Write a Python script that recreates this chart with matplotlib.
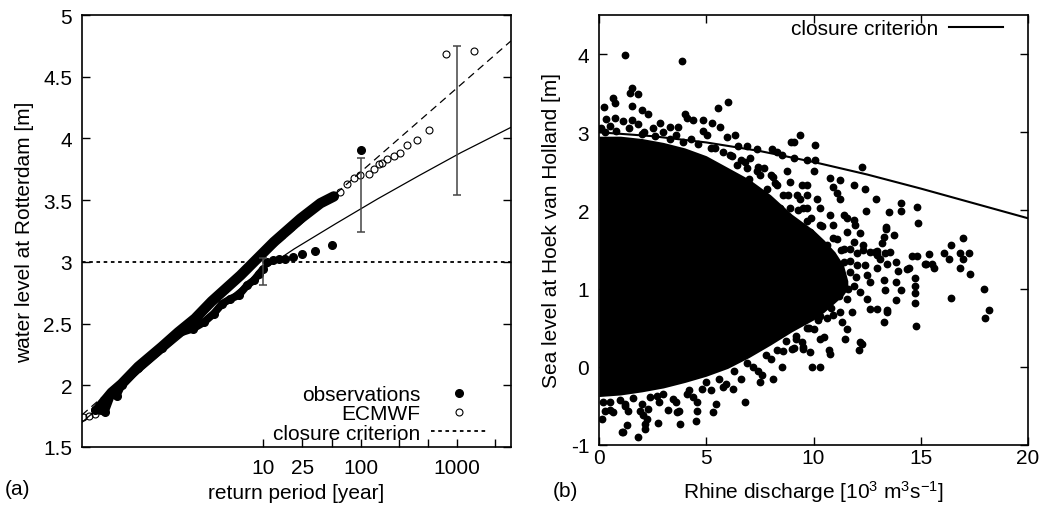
import numpy as np
import matplotlib
matplotlib.use("Agg")
import matplotlib.pyplot as plt

plt.rcParams['font.family'] = ['Liberation Sans', 'DejaVu Sans']
plt.rcParams['font.size'] = 15
plt.rcParams['mathtext.fontset'] = 'custom'
plt.rcParams['mathtext.rm'] = 'Liberation Sans'
plt.rcParams['mathtext.it'] = 'Liberation Sans:italic'

# ---- panel (a): x in Gumbel reduced variate -ln(-ln(1-1/T)), level in m
ecmwf_g = [-2.06, -1.92, -1.78, -1.70, -1.38, -1.14, -0.74, -0.18, 0.22, 0.62, 1.02, 1.71,
           2.51, 3.15, 3.63, 3.95, 4.11, 4.27, 4.43, 4.59, 4.79, 4.91, 5.03, 5.11, 5.23,
           5.39, 5.53, 5.71, 5.95, 6.23, 6.64, 7.32]
ecmwf_lvl = [1.74, 1.755, 1.77, 1.81, 1.94, 2.01, 2.15, 2.31, 2.43, 2.54, 2.68, 2.89,
             3.16, 3.35, 3.475, 3.53, 3.57, 3.63, 3.68, 3.70, 3.71, 3.75, 3.79, 3.80, 3.83,
             3.855, 3.88, 3.95, 3.99, 4.07, 4.68, 4.71]

obs_g = [-1.78, -1.54, -1.38, -1.26, -1.14, -0.74, -0.18, 0.22, 0.58, 0.83, 1.07, 1.27, 1.47,
         1.67, 1.87, 2.03, 2.15, 2.25, 2.35, 2.48, 2.63, 2.77, 2.97, 3.19, 3.49, 3.90, 4.60]
obs_lvl = [1.80, 1.785, 1.93, 1.915, 2.00, 2.14, 2.30, 2.42, 2.46, 2.51, 2.58, 2.66, 2.70,
           2.73, 2.81, 2.85, 2.90, 2.94, 3.00, 3.015, 3.02, 3.027, 3.04, 3.065, 3.085, 3.138, 3.91]

gev_g = [-2.09, -1, 0, 1, 2, 2.25, 3, 4, 4.6, 5, 6, 7, 8.2]
gev_lvl = [1.70, 2.02, 2.31, 2.59, 2.865, 2.935, 3.105, 3.31, 3.43, 3.51, 3.70, 3.885, 4.09]

gumbel_g = [-2.09, 8.2]
gumbel_lvl = [1.76, 4.79]

eb_T = [10, 100, 1000]
eb_lo = [2.81, 3.245, 3.545]
eb_hi = [3.03, 3.84, 4.75]

tick_T = [10, 25, 50, 100, 250, 500, 1000, 2500]
tick_lab = ['10', '25', '', '100', '', '', '1000', '']

# ---- panel (b): Rhine discharge [10^3 m3/s] vs sea level [m]
clos_q = [0, 2.5, 5, 7.5, 10, 12.5, 15, 17.5, 20]
clos_lvl = [3.0, 2.95, 2.87, 2.76, 2.62, 2.46, 2.28, 2.09, 1.90]

# outline of the solid cloud of points
env_q = [0, 1, 2, 3, 4, 5, 6, 7, 8, 9, 10, 10.5, 11, 11.4, 11.6]
env_hi = [2.95, 2.95, 2.92, 2.87, 2.8, 2.7, 2.55, 2.4, 2.2, 1.95, 1.75, 1.62, 1.47, 1.3, 1.1]
env_lo = [-0.38, -0.36, -0.32, -0.27, -0.2, -0.12, -0.02, 0.12, 0.28, 0.45, 0.6, 0.7, 0.82, 0.92, 1.0]

out_q = [1.21, 3.86, 1.52, 1.45, 1.83, 0.67, 0.75, 0.23, 1.52, 2.02, 2.30, 6.03, 5.57, 4.01, 4.09,
         0.33, 0.75, 1.13, 1.52, 2.85, 3.31, 3.70, 4.40, 4.87, 5.26, 5.65, 4.87, 5.03, 6.35, 5.96,
         9.35, 8.96, 6.50, 8.06, 7.36, 6.89, 8.53, 9.07, 9.69, 7.67, 8.13, 8.76, 9.46, 7.36,
         0.1, 0.5, 1.8, 2.5, 3.0, 3.6, 4.3, 2.1,
         10.08, 10.08, 10.0, 12.26, 9.69, 10.78, 10.93, 11.87, 12.41, 11.09, 12.93, 14.08, 14.08,
         14.83, 13.52, 12.46, 14.85, 13.39, 13.77, 13.27, 16.97, 16.41, 16.07, 16.81, 17.23, 15.37,
         16.33, 16.95, 15.26, 15.52, 15.6, 16.81, 17.28, 14.83, 14.36, 13.92, 14.75, 14.75, 14.75,
         14.75, 14.79, 17.93, 16.41, 18.2, 18.01, 14.08, 13.86, 13.42, 13.42, 13.27, 13.86, 12.96,
         12.65, 12.26, 12.18, 12.1,
         13.37, 14.43, 14.59, 15.21, 13.84, 12.33, 12.88, 13.19, 11.48, 10.7, 10.78, 10.28, 9.92,
         9.53, 9.07, 9.84, 11.24, 11.24, 11.56, 11.94, 12.18, 9.07, 8.29,
         11.71, 12.03, 12.65, 12.96, 13.35, 13.58, 13.11, 13.42, 12.96, 13.27, 13.35, 12.65, 12.49,
         12.18, 11.87, 11.56, 11.79, 11.25, 11.56, 10.93, 11.33, 10.63, 10.31, 10.0, 10.47, 12.41,
         12.49, 12.03, 11.4, 11.25, 10.93, 11.71, 10.31, 10.78,
         9.69, 10.16, 10.31, 10.78, 9.69, 9.38, 10.93, 11.40, 11.56, 11.87, 10.31, 9.85, 11.09,
         11.87, 11.4, 10.63, 12.33, 12.96,
         8.91, 9.22, 8.6, 8.29, 7.83, 6.89, 6.43, 7.05, 6.11, 8.91, 9.53, 8.45, 9.69,
         5.2, 5.8, 6.6, 7.4, 8.0, 7.0,
         0.13, 0.28, 0.67, 1.06, 1.83, 1.21, 1.37, 1.91, 2.07, 2.15, 2.23, 2.30, 2.77, 3.24, 3.75,
         3.78, 4.56, 4.53, 4.56, 4.79, 5.31, 5.46, 6.81, 6.24, 5.80, 7.51, 8.11, 7.59, 8.53, 8.99,
         9.53, 9.46, 3.47, 2.69, 4.09, 1.29, 2.15, 1.14, 3.62,
         0.5, 1.0, 1.6, 2.4, 3.0, 4.2, 5.0, 5.6, 6.3, 6.9, 7.2, 7.8, 8.3, 8.7, 9.2, 9.8, 10.2,
         0.3, 0.8, 1.4, 2.0, 2.6, 3.3, 3.9, 4.6, 5.4, 6.2, 6.8, 7.5, 8.2, 8.8, 9.3, 9.9, 10.4,
         10.9, 11.3, 11.7, 12.0, 11.6, 11.2, 10.8, 10.3, 9.7, 9.2, 8.6, 8.0, 7.4, 6.6, 5.9, 5.2,
         4.4, 3.6, 2.8, 2.0, 1.2, 0.5, 0.2]
out_lvl = [3.99, 3.91, 3.56, 3.50, 3.49, 3.44, 3.37, 3.32, 3.34, 3.29, 3.24, 3.39, 3.31, 3.24, 3.18,
           3.17, 3.18, 3.14, 3.16, 3.12, 3.07, 3.07, 3.16, 3.16, 3.12, 3.07, 3.01, 2.97, 2.97, 2.94,
           2.96, 2.88, 2.82, 2.79, 2.79, 2.82, 2.71, 2.67, 2.65, 2.54, 2.43, 2.50, 2.32, 2.50,
           3.05, 3.08, 3.10, 3.05, 3.0, 2.97, 2.92, 3.0,
           2.84, 2.64, 2.50, 2.56, 2.32, 2.41, 2.30, 2.32, 2.27, 2.22, 2.15, 2.09, 1.99,
           2.04, 1.98, 1.99, 1.84, 1.79, 1.68, 1.66, 1.65, 1.56, 1.46, 1.46, 1.46, 1.44,
           1.38, 1.38, 1.32, 1.31, 1.26, 1.27, 1.19, 1.42, 1.25, 1.22, 1.13, 1.04, 0.94,
           0.82, 0.52, 0.99, 0.88, 0.73, 0.63, 0.98, 0.86, 0.73, 0.70, 0.57, 1.09, 0.74,
           0.74, 0.29, 0.32, 0.21,
           1.76, 1.26, 1.42, 1.32, 1.34, 1.49, 1.47, 1.58, 0.36, 0.21, 0.17, 0.0, 0.0,
           0.25, 0.24, 0.19, 2.39, 2.15, 1.90, 1.81, 1.71, 2.88, 2.75,
           1.51, 1.45, 1.47, 1.48, 1.46, 1.47, 1.38, 1.32, 1.26, 1.11, 0.98, 1.09, 0.87,
           0.96, 1.04, 0.87, 0.70, 0.70, 0.49, 0.66, 0.57, 0.62, 0.36, 0.49, 0.38, 1.30,
           1.17, 1.30, 1.34, 1.17, 1.04, 1.21, 0.87, 0.87,
           2.20, 2.15, 2.03, 1.94, 2.03, 2.15, 1.81, 1.94, 1.73, 1.88, 1.81, 1.73, 1.64,
           1.60, 1.51, 1.56, 1.56, 1.43,
           2.37, 2.20, 2.20, 2.32, 2.28, 2.54, 2.58, 2.67, 2.71, 2.03, 2.03, 2.03, 1.86,
           2.8, 2.75, 2.65, 2.55, 2.45, 2.4,
           -0.67, -0.56, -0.58, -0.84, -0.90, -0.47, -0.57, -0.56, -0.62, -0.73, -0.67, -0.54, -0.72,
           -0.55, -0.56, -0.73, -0.57, -0.69, -0.45, -0.29, -0.58, -0.47, -0.45, -0.28, -0.26, -0.20,
           -0.15, -0.11, 0.0, 0.23, 0.23, 0.32, -0.41, -0.37, -0.35, -0.75, -0.79, -0.84, -0.58,
           -0.45, -0.42, -0.4, -0.38, -0.35, -0.3, -0.2, -0.15, -0.05, 0.05, 0.0, 0.15, 0.22,
           0.33, 0.4, 0.5, 0.6,
           3.0, 3.02, 3.05, 2.98, 2.95, 2.92, 2.88, 2.85, 2.8, 2.7, 2.62, 2.45, 2.35, 2.2, 2.0,
           1.9, 1.8, 1.65, 1.5, 1.35, 1.15, 1.0, 0.9, 0.75, 0.65, 0.5, 0.35, 0.2, 0.1, -0.05,
           -0.15, -0.22, -0.3, -0.38, -0.45, -0.45, -0.48, -0.5, -0.55, -0.45]


def gumbel(T):
    T = np.asarray(T, dtype=float)
    return -np.log(-np.log(1.0 - 1.0 / T))


def fmt_g(v, pos):
    return '%g' % v


W, H = 1040, 510
fig = plt.figure(figsize=(W / 100, H / 100), dpi=100)
ax1 = fig.add_axes([82 / W, 1 - 448 / H, (511 - 82) / W, (448 - 16) / H])
ax2 = fig.add_axes([599 / W, 1 - 446 / H, (1028 - 599) / W, (446 - 16) / H])

# ---------------- panel (a)
h_cc = ax1.axhline(3.0, color='k', lw=1.3, ls=(0, (2, 2)))
ax1.plot(gev_g, gev_lvl, color='k', lw=0.9)
ax1.plot(gumbel_g, gumbel_lvl, color='k', lw=0.9, ls=(0, (6, 4)))

h_ec, = ax1.plot(ecmwf_g, ecmwf_lvl, 'o', mfc='none', mec='k', mew=0.8, ms=5, ls='none', zorder=3)
h_obs, = ax1.plot(obs_g, obs_lvl, 'o', color='k', ms=5.5, ls='none', zorder=4)
# densely overlapping markers form solid bands
n_ec = 16
ax1.plot(ecmwf_g[3:n_ec], ecmwf_lvl[3:n_ec], color='k', lw=7.5,
         solid_capstyle='round', solid_joinstyle='round', zorder=4)
n_obs = 18
ax1.plot(obs_g[:n_obs], obs_lvl[:n_obs], color='k', lw=5.5,
         solid_capstyle='round', solid_joinstyle='round', zorder=4)

eb_x = gumbel(eb_T)
eb_mid = (np.array(eb_lo) + np.array(eb_hi)) / 2
ax1.errorbar(eb_x, eb_mid, yerr=[eb_mid - np.array(eb_lo), np.array(eb_hi) - eb_mid],
             fmt='none', ecolor='#444444', elinewidth=1.1, capsize=3, capthick=1.1, zorder=5)

ax1.set_xlim(-2.09, 8.2)
ax1.set_ylim(1.5, 5)
ax1.set_xticks(gumbel(tick_T))
ax1.set_xticklabels(tick_lab)
ax1.set_yticks(np.arange(1.5, 5.01, 0.5))
ax1.yaxis.set_major_formatter(plt.FuncFormatter(fmt_g))
ax1.tick_params(axis='y', direction='in', length=6, width=1, right=True, pad=7)
ax1.tick_params(axis='x', direction='in', length=6, width=1, top=False, pad=8)
ax1.set_xlabel('return period [year]', labelpad=4)
ax1.set_ylabel('water level at Rotterdam [m]', labelpad=7)
for s in ax1.spines.values():
    s.set_linewidth(1.2)

ax1.legend([h_obs, h_ec, h_cc], ['observations', 'ECMWF', 'closure criterion'],
           loc='lower right', bbox_to_anchor=(0.944, 0.01), frameon=False,
           markerfirst=False, numpoints=1, handlelength=2.7, handletextpad=0.5,
           labelspacing=0.02, borderpad=0, borderaxespad=0)

# ---------------- panel (b)
ax2.fill_between(env_q, env_lo, env_hi, color='k', lw=0)
ax2.plot(out_q, out_lvl, 'o', color='k', ms=4.6, ls='none')
h_cl, = ax2.plot(clos_q, clos_lvl, color='k', lw=1.5)

ax2.set_xlim(0, 20)
ax2.set_ylim(-1, 4.5)
ax2.set_xticks([0, 5, 10, 15, 20])
ax2.set_yticks([-1, 0, 1, 2, 3, 4])
ax2.xaxis.set_major_formatter(plt.FuncFormatter(fmt_g))
ax2.yaxis.set_major_formatter(plt.FuncFormatter(fmt_g))
ax2.tick_params(axis='y', direction='in', length=6, width=1, right=True, pad=7)
ax2.tick_params(axis='x', direction='in', length=6, width=1, top=True, pad=2)
ax2.set_xlabel('Rhine discharge [10$^3$ m$^3$s$^{-1}$]', labelpad=8)
ax2.set_ylabel('Sea level at Hoek van Holland [m]', labelpad=7)
for s in ax2.spines.values():
    s.set_linewidth(1.2)

ax2.legend([h_cl], ['closure criterion'], loc='upper right', bbox_to_anchor=(0.942, 0.99),
           frameon=False, markerfirst=False, handlelength=2.6, handletextpad=0.5,
           borderpad=0, borderaxespad=0)

fig.text(5 / W, 1 - 490 / H, '(a)', va='center', ha='left')
fig.text(553 / W, 1 - 492 / H, '(b)', va='center', ha='left')

fig.savefig('out.png', dpi=100)
